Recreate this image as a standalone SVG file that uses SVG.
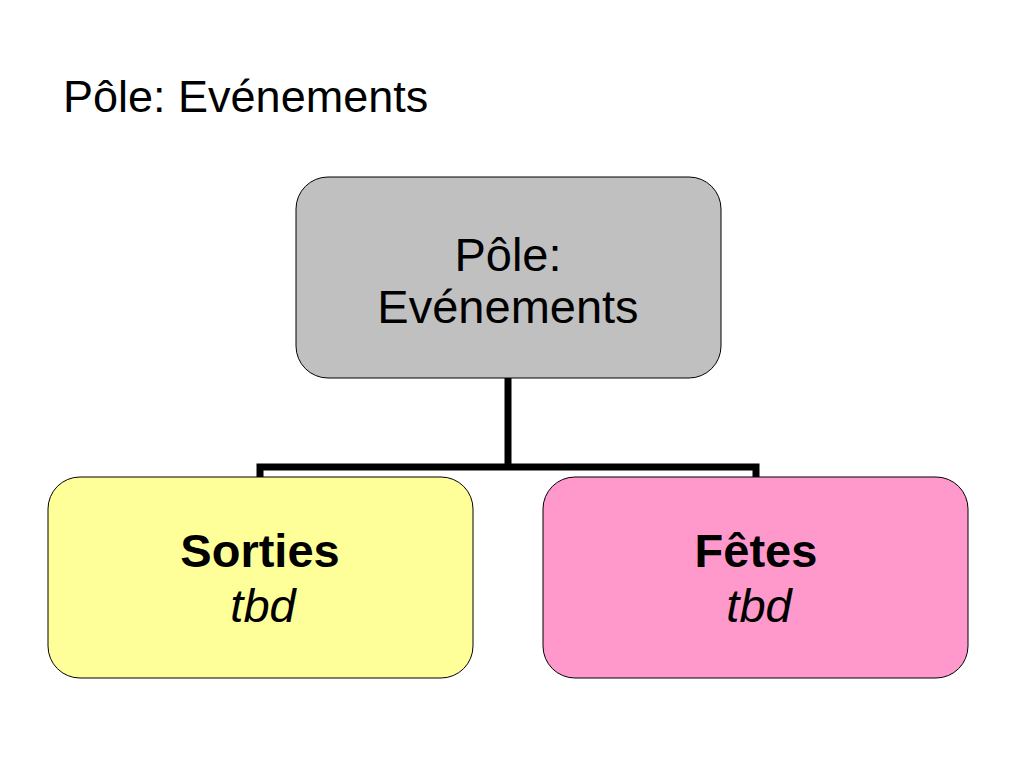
<svg xmlns="http://www.w3.org/2000/svg" width="1024" height="768" viewBox="0 0 1024 768">
<style>
.box{stroke:#000;stroke-width:1}
.t{font-family:"Liberation Sans",Arial,sans-serif;font-size:47px;fill:#000;text-anchor:middle}
.b{font-weight:bold}
.i{font-style:italic}
.conn{fill:none;stroke:#000;stroke-width:7;stroke-linejoin:miter}
</style>
<rect width="1024" height="768" fill="#fff"/>
<text id="title" x="63" y="112" style="font-family:'Liberation Sans',Arial,sans-serif;font-size:45px;fill:#000">Pôle: Evénements</text>
<g id="connectors">
<path class="conn" d="M508,378 V467 M260,477 V467 H756 V477"/>
</g>
<g id="node-pole">
<rect class="box" x="296" y="177" width="425" height="201" rx="32" fill="#C0C0C0"/>
<text class="t" x="508" y="271">Pôle:</text>
<text class="t" x="508" y="323">Evénements</text>
</g>
<g id="node-sorties">
<rect class="box" x="48" y="477" width="425" height="201" rx="32" fill="#FFFF99"/>
<text class="t b" x="260" y="567">Sorties</text>
<text class="t i" x="263" y="622">tbd</text>
</g>
<g id="node-fetes">
<rect class="box" x="543" y="477" width="425" height="201" rx="32" fill="#FF99CC"/>
<text class="t b" x="756" y="567">Fêtes</text>
<text class="t i" x="759" y="622">tbd</text>
</g>
</svg>
